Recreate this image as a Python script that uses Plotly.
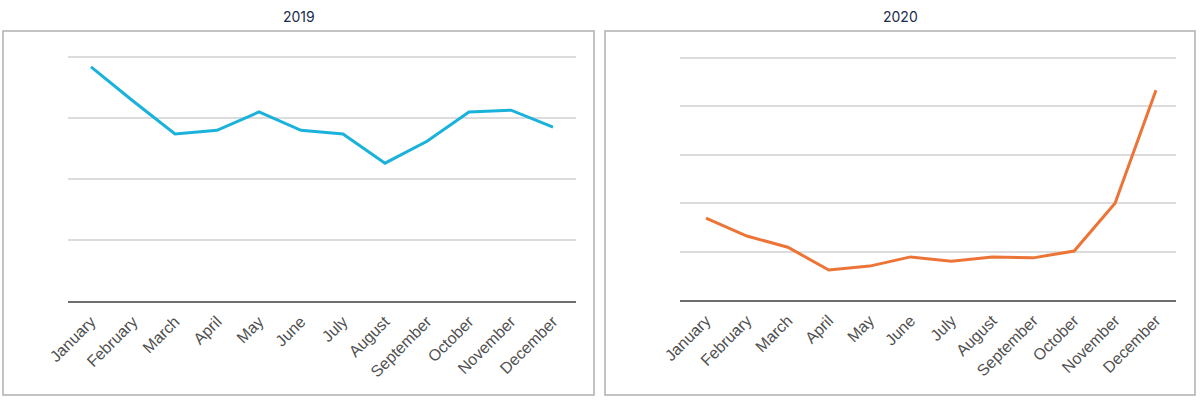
import plotly.graph_objects as go
from plotly.subplots import make_subplots

months = ["January", "February", "March", "April", "May", "June", "July",
          "August", "September", "October", "November", "December"]
values_2019 = [3.84, 3.28, 2.74, 2.80, 3.10, 2.80, 2.74, 2.26, 2.62, 3.10, 3.13, 2.85]
values_2020 = [1.69, 1.32, 1.09, 0.62, 0.70, 0.89, 0.80, 0.89, 0.87, 1.01, 2.00, 4.33]
titles = ["2019", "2020"]

W, H = 1200, 400
fig = make_subplots(rows=1, cols=2)

fig.add_trace(go.Scatter(x=months, y=values_2019, mode="lines",
                         line=dict(color="#1ab2da", width=3), showlegend=False,
                         hoverinfo="x+y"), row=1, col=1)
fig.add_trace(go.Scatter(x=months, y=values_2020, mode="lines",
                         line=dict(color="#ec7436", width=3), showlegend=False,
                         hoverinfo="x+y"), row=1, col=2)

tickfont = dict(family="Liberation Sans, Arial, sans-serif", size=16, color="#505050")
xcommon = dict(type="category", tickangle=-45, tickfont=tickfont, showgrid=False,
               showline=True, linecolor="#6e6e6e", linewidth=2, ticks="",
               zeroline=False, automargin=False, ticklabelstandoff=3)
ycommon = dict(showgrid=True, gridcolor="#dcdcdc", gridwidth=2, showticklabels=False,
               zeroline=False, showline=False, ticks="", dtick=1, automargin=False)

fig.update_layout(
    template="none",
    width=W, height=H,
    margin=dict(l=0, r=0, t=0, b=0, autoexpand=False),
    paper_bgcolor="white", plot_bgcolor="white",
    xaxis=dict(domain=[68 / W, 576 / W], range=[-0.548, 11.548], **xcommon),
    yaxis=dict(domain=[1 - 301 / H, 1 - 51 / H], range=[0, 4.1], **ycommon),
    xaxis2=dict(domain=[680 / W, 1176 / W], range=[-0.636, 11.49], **xcommon),
    yaxis2=dict(domain=[1 - 300 / H, 1 - 53 / H], range=[0, 5.1], **ycommon),
    shapes=[
        dict(type="rect", xref="paper", yref="paper",
             x0=3 / W, x1=594 / W, y0=1 - 395 / H, y1=1 - 31 / H,
             line=dict(color="#b0b0b0", width=1.5), layer="below"),
        dict(type="rect", xref="paper", yref="paper",
             x0=605 / W, x1=1195 / W, y0=1 - 395 / H, y1=1 - 31 / H,
             line=dict(color="#b0b0b0", width=1.5), layer="below"),
    ],
    annotations=[
        dict(text=titles[0], x=299 / W, y=1 - 16 / H, xref="paper", yref="paper",
             xanchor="center", yanchor="middle", showarrow=False,
             font=dict(family="Inter, sans-serif", size=14, color="#1c2b4b")),
        dict(text=titles[1], x=900 / W, y=1 - 16 / H, xref="paper", yref="paper",
             xanchor="center", yanchor="middle", showarrow=False,
             font=dict(family="Inter, sans-serif", size=14, color="#1c2b4b")),
    ],
)

fig.write_html("out.html", config={"displayModeBar": False},
               post_script="document.body.style.margin='0';document.body.style.overflow='hidden';")
